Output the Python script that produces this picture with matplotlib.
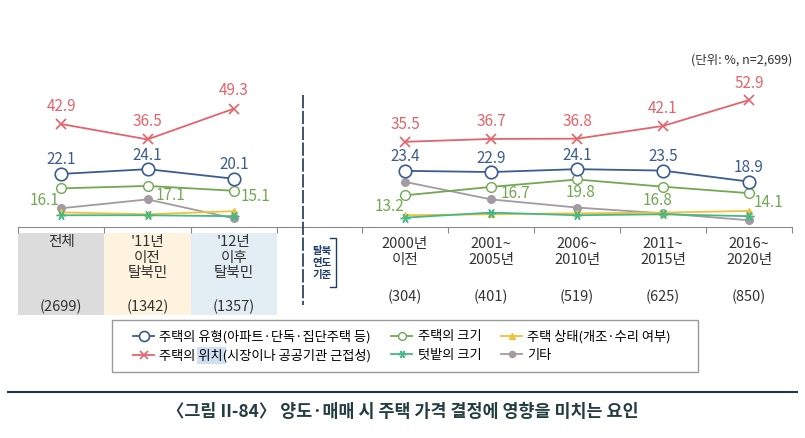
import matplotlib.pyplot as plt
from matplotlib.lines import Line2D
from matplotlib.patches import Rectangle
from matplotlib.transforms import blended_transform_factory

plt.rcParams['font.family'] = ['Noto Sans CJK KR', 'DejaVu Sans']

# ---- data ----
left_cats = ["전체", "'11년\n이전\n탈북민", "'12년\n이후\n탈북민"]
left_n = ["(2699)", "(1342)", "(1357)"]
right_cats = ["2000년\n이전", "2001~\n2005년", "2006~\n2010년", "2011~\n2015년", "2016~\n2020년"]
right_n = ["(304)", "(401)", "(519)", "(625)", "(850)"]

series_names = ["주택의 유형(아파트·단독·집단주택 등)", "주택의 크기", "주택 상태(개조·수리 여부)",
                "주택의 위치(시장이나 공공기관 근접성)", "텃밭의 크기", "기타"]

type_left = [22.1, 24.1, 20.1]
size_left = [16.1, 17.1, 15.1]
cond_left = [6.1, 5.3, 6.6]
loc_left = [42.9, 36.5, 49.3]
garden_left = [4.9, 4.9, 4.5]
etc_left = [7.8, 11.5, 3.6]

type_right = [23.4, 22.9, 24.1, 23.5, 18.9]
size_right = [13.2, 16.7, 19.8, 16.8, 14.1]
cond_right = [4.9, 5.3, 5.7, 6.0, 6.7]
loc_right = [35.5, 36.7, 36.8, 42.1, 52.9]
garden_right = [3.9, 6.0, 4.9, 5.3, 4.5]
etc_right = [18.8, 11.5, 8.1, 5.7, 2.8]

# ---- styles ----
blue = "#3b5c8f"
green = "#72a852"
yellow = "#f2c13c"
red = "#e5636b"
teal = "#45b887"
gray = "#a39aa3"

styles = [
    dict(color=blue, marker="o", ms=9, mfc="white", mec=blue, mew=1.2, zorder=6),
    dict(color=green, marker="o", ms=7, mfc="white", mec=green, mew=1.0, zorder=5),
    dict(color=yellow, marker="^", ms=5, zorder=3),
    dict(color=red, marker="x", ms=7, mew=1.2, zorder=6),
    dict(color=teal, marker=(6, 2, 90), ms=7, mew=1.0, zorder=4),
    dict(color=gray, marker="o", ms=5.5, zorder=2),
]

W, H = 805, 438
fig = plt.figure(figsize=(W / 100, H / 100), dpi=100)


def fx(px):
    return px / W


def fy(py):
    return 1 - py / H


y0 = 227
ppu = 2.4
ymax = 60
ax_h = ymax * ppu / H
axL = fig.add_axes([fx(18), fy(y0), fx(259), ax_h])
axR = fig.add_axes([fx(362), fy(y0), fx(430), ax_h])

left_data = [type_left, size_left, cond_left, loc_left, garden_left, etc_left]
right_data = [type_right, size_right, cond_right, loc_right, garden_right, etc_right]

handles = []
for i, st in enumerate(styles):
    h, = axL.plot(range(3), left_data[i], lw=1.3, **st)
    axR.plot(range(5), right_data[i], lw=1.3, **st)
    handles.append(h)

# label offsets in pixels (dx, dy up)
def label(ax, xs, ys, color, offs):
    for x, y, o in zip(xs, ys, offs):
        ax.annotate(f"{y:.1f}", (x, y), xytext=o, textcoords="offset pixels",
                    ha="center", va="center", fontsize=11, color=color, zorder=10)


label(axL, range(3), loc_left, red, [(0, 18)] * 3)
label(axL, range(3), type_left, blue, [(0, 14)] * 3)
label(axL, range(3), size_left, green, [(-17, -12), (23, -10), (22, -6)])
label(axR, range(5), loc_right, red, [(0, 17)] * 5)
label(axR, range(5), type_right, blue, [(0, 14)] * 5)
label(axR, range(5), size_right, green, [(-16, -11), (24, -7), (4, -13), (-5, -14), (19, -9)])

for ax, n in [(axL, 3), (axR, 5)]:
    ax.set_xlim(-0.5, n - 0.5)
    ax.set_ylim(0, ymax)
    for s in ["top", "right", "left", "bottom"]:
        ax.spines[s].set_visible(False)
    ax.set_yticks([])
    ax.set_xticks([i - 0.5 for i in range(n + 1)])
    ax.tick_params(axis="x", length=4, color="#8a8a8a", width=0.8, labelbottom=False)
    ax.patch.set_alpha(0)

# baseline running across both panels
fig.add_artist(Line2D([fx(18), fx(792)], [fy(y0), fy(y0)], color="#8a8a8a", lw=0.8))

# category table
cell_colors = ["#dcdcdc", "#fdf3df", "#e2eef3"]
trL = blended_transform_factory(axL.transData, fig.transFigure)
trR = blended_transform_factory(axR.transData, fig.transFigure)
for i, c in enumerate(cell_colors):
    fig.add_artist(Rectangle((i - 0.5, fy(315)), 1, fy(233) - fy(315), transform=trL,
                             facecolor=c, edgecolor="none", zorder=0))
for i, (c, n) in enumerate(zip(left_cats, left_n)):
    fig.text(i, fy(235), c, transform=trL, ha="center", va="top", fontsize=10.5,
             color="#333333", linespacing=1.15)
    fig.text(i, fy(307), n, transform=trL, ha="center", va="center", fontsize=10.5, color="#333333")
for i, (c, n) in enumerate(zip(right_cats, right_n)):
    fig.text(i, fy(237), c, transform=trR, ha="center", va="top", fontsize=10.5,
             color="#333333", linespacing=1.15)
    fig.text(i, fy(297), n, transform=trR, ha="center", va="center", fontsize=10.5, color="#333333")

# divider and bracket label
fig.add_artist(Line2D([fx(303), fx(303)], [fy(95), fy(305)], color="#1d3a4a", lw=1.2,
                      linestyle=(0, (8, 1.5))))
fig.text(fx(322), fy(263), "탈북\n연도\n기준", ha="center", va="center", fontsize=7.5,
         color="#1f3d6b", fontweight="bold", linespacing=1.25)
fig.add_artist(Line2D([fx(330), fx(336), fx(336), fx(330)], [fy(238), fy(238), fy(287), fy(287)],
                      color="#1f3d6b", lw=1.0))

fig.text(fx(792), fy(60), "(단위: %, n=2,699)", ha="right", va="center", fontsize=9, color="#333333")

# legend box and selection highlight
fig.add_artist(Rectangle((fx(112), fy(372)), fx(698) - fx(112), fy(320) - fy(372),
                         facecolor="white", edgecolor="#9a9a9a", lw=1.0, zorder=0))
fig.add_artist(Rectangle((fx(197), fy(364)), fx(226) - fx(197), fy(347) - fy(364),
                         facecolor="#cfe0f3", edgecolor="none", zorder=1))

order = [0, 3, 1, 4, 2, 5]
fig.legend([handles[i] for i in order], [series_names[i] for i in order], ncol=3,
           loc="center", bbox_to_anchor=(fx(402), fy(346)), frameon=False, fontsize=9.5,
           handlelength=1.6, handletextpad=0.4, columnspacing=1.5, labelspacing=0.4,
           markerscale=0.8)

# title
fig.add_artist(Line2D([fx(8), fx(797)], [fy(392), fy(392)], color="#1e3a40", lw=1.5))
fig.text(0.5, fy(412), "〈그림 II-84〉 양도·매매 시 주택 가격 결정에 영향을 미치는 요인",
         ha="center", va="center", fontsize=12.5, fontweight="bold", color="#233d40")

fig.savefig("out.png", dpi=100)
